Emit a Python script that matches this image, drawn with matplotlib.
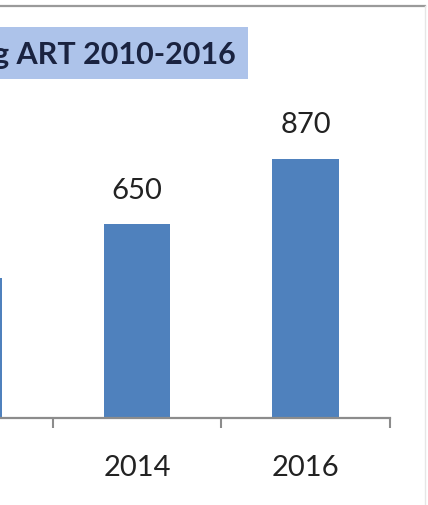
import matplotlib
matplotlib.use("Agg")
import matplotlib.pyplot as plt
from matplotlib.patches import Rectangle
from matplotlib.lines import Line2D

years = ['2012', '2014', '2016']
people = [470, 650, 870]
title_text = 'g ART 2010-2016'

bar_color = '#4f81bd'
axis_color = '#8c8c8c'
fig_w, fig_h = 428, 506

plt.rcParams['font.family'] = ['Lato', 'DejaVu Sans']

fig = plt.figure(figsize=(fig_w / 100, fig_h / 100), dpi=100)

# axes runs off the left edge, the picture is a crop of a wider chart
ax_left = -115.75 / fig_w
ax_width = 505.5 / fig_w
ax_bottom = (fig_h - 419) / fig_h
ax_height = 297.8 / fig_h
ax = fig.add_axes([ax_left, ax_bottom, ax_width, ax_height])

x = list(range(len(years)))
bars = ax.bar(x, people, width=0.395, color=bar_color, zorder=2)
ax.set_xlim(-0.5, len(years) - 0.5)
ax.set_ylim(0, 1000)

for b, v in zip(bars, people):
    ax.annotate(str(v), (b.get_x() + b.get_width() / 2, v),
                xytext=(0, 25), textcoords='offset points',
                ha='center', va='center', fontsize=21, color='#222222')

for s in ['top', 'right', 'left']:
    ax.spines[s].set_visible(False)
ax.spines['bottom'].set_color(axis_color)
ax.spines['bottom'].set_linewidth(1.6)
ax.set_yticks([])

# ticks between categories, labels centred
ax.set_xticks([i - 0.5 for i in range(len(years) + 1)])
ax.set_xticklabels([])
ax.set_xticks(x, minor=True)
ax.set_xticklabels(years, minor=True, fontsize=21, color='#222222')
ax.tick_params(axis='x', which='major', direction='out', length=7.5,
               width=1.5, color=axis_color)
ax.tick_params(axis='x', which='minor', length=0, pad=26)

# title box
fig.patches.append(Rectangle((0, 1 - 80 / fig_h), 248 / fig_w, 52 / fig_h,
                             transform=fig.transFigure, facecolor='#adc3ea',
                             edgecolor='none', zorder=1))
fig.text(236 / fig_w, 1 - 55 / fig_h, title_text, ha='right', va='center',
         fontsize=22, fontweight='bold', color='#1a2340')

# chart area border
fig.lines.append(Line2D([0, 425 / fig_w], [1 - 7 / fig_h, 1 - 7 / fig_h],
                        transform=fig.transFigure, color='#9a9a9a', lw=1.6))
fig.lines.append(Line2D([425 / fig_w, 425 / fig_w], [0, 1 - 7 / fig_h],
                        transform=fig.transFigure, color='#e6e6e6', lw=1.0))

fig.savefig('out.png', dpi=100)
